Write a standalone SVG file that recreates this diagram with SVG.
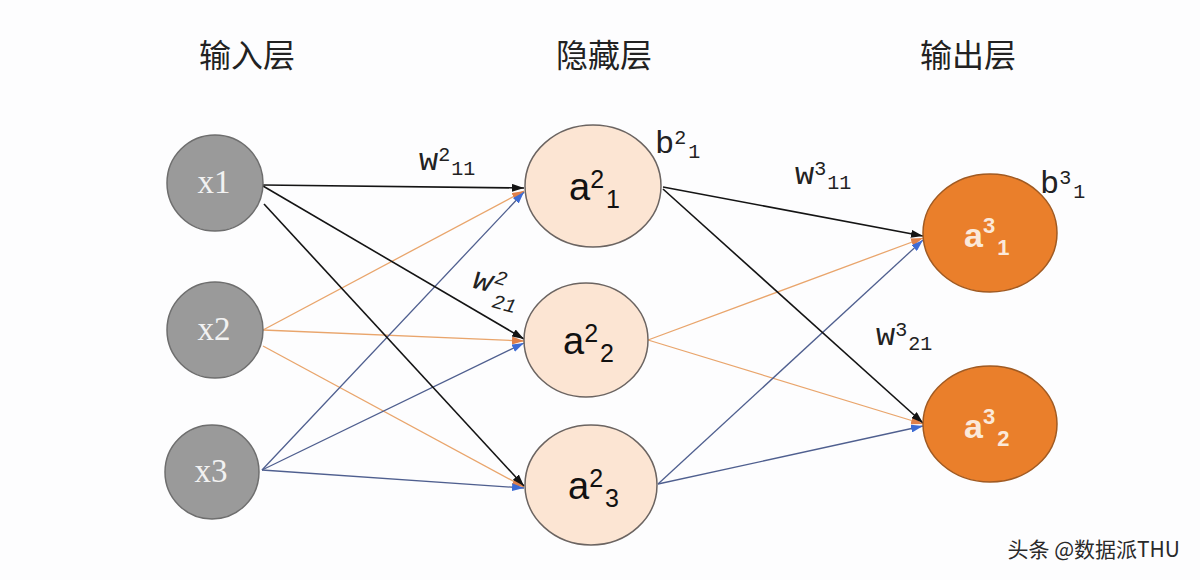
<svg xmlns="http://www.w3.org/2000/svg" width="1200" height="580" viewBox="0 0 1200 580">
<defs>
<style>
.title{font-family:"Noto Sans CJK SC","Noto Sans",sans-serif;font-size:32px;fill:#222;text-anchor:middle}
.mono{font-family:"Liberation Mono","DejaVu Sans Mono",monospace;fill:#222}
.inode{fill:#9a9a9a;stroke:#6e6e6e;stroke-width:1.5}
.hnode{fill:#fce5d3;stroke:#6b6461;stroke-width:1.5}
.onode{fill:#ea7f2b;stroke:#a05a22;stroke-width:1.5}
.itext{font-family:"Liberation Serif","DejaVu Serif",serif;font-size:33px;fill:#f2f2f2;text-anchor:middle}
.htext{font-family:"Liberation Sans",Arial,sans-serif;fill:#111}
.otext{font-family:"Liberation Sans",Arial,sans-serif;fill:#fbe9da;font-weight:bold}
.eb{stroke:#141414;stroke-width:1.6;fill:none;marker-end:url(#ab)}
.eo{stroke:#e9a56c;stroke-width:1.3;fill:none;marker-end:url(#ao)}
.el{stroke:#4f5f8f;stroke-width:1.3;fill:none;marker-end:url(#al)}
.wm{font-family:"Noto Sans CJK SC","Noto Sans",sans-serif;font-size:21px;fill:#2a2a2a;text-anchor:end}
</style>
<marker id="ab" viewBox="0 0 12 8" refX="12" refY="4" markerWidth="12" markerHeight="8" markerUnits="userSpaceOnUse" orient="auto"><path d="M0,0 L12,4 L0,8 Z" fill="#141414"/></marker>
<marker id="ao" viewBox="0 0 12 8" refX="12" refY="4" markerWidth="12" markerHeight="8" markerUnits="userSpaceOnUse" orient="auto"><path d="M0,0 L12,4 L0,8 Z" fill="#e0804a"/></marker>
<marker id="al" viewBox="0 0 12 8" refX="12" refY="4" markerWidth="12" markerHeight="8" markerUnits="userSpaceOnUse" orient="auto"><path d="M0,0 L12,4 L0,8 Z" fill="#3d6bd4"/></marker>
</defs>
<rect width="1200" height="580" fill="#fdfdfe"/>

<g id="titles">
<text class="title" x="247" y="67">输入层</text>
<text class="title" x="604" y="67">隐藏层</text>
<text class="title" x="968" y="67">输出层</text>
</g>

<g id="connectors">
<line class="eo" x1="263" y1="330" x2="524" y2="191"/>
<line class="eo" x1="263" y1="330" x2="524" y2="341"/>
<line class="eo" x1="263" y1="346" x2="524" y2="487"/>
<line class="el" x1="262" y1="470" x2="524" y2="192"/>
<line class="el" x1="262" y1="470" x2="524" y2="343"/>
<line class="el" x1="262" y1="470" x2="524" y2="488"/>
<line class="eb" x1="263" y1="185" x2="524" y2="188"/>
<line class="eb" x1="263" y1="186" x2="524" y2="339"/>
<line class="eb" x1="264" y1="204" x2="524" y2="486"/>
<line class="eo" x1="648" y1="340" x2="923" y2="238"/>
<line class="eo" x1="648" y1="340" x2="923" y2="424"/>
<line class="el" x1="658" y1="484" x2="923" y2="240"/>
<line class="el" x1="658" y1="484" x2="923" y2="426"/>
<line class="eb" x1="663" y1="187" x2="923" y2="236"/>
<line class="eb" x1="663" y1="189" x2="923" y2="423"/>
</g>

<g id="x1"><circle class="inode" cx="215" cy="183" r="48"/><text class="itext" x="214" y="193">x1</text></g>
<g id="x2"><circle class="inode" cx="215" cy="330" r="48"/><text class="itext" x="214" y="340">x2</text></g>
<g id="x3"><circle class="inode" cx="212" cy="472" r="47"/><text class="itext" x="211" y="482">x3</text></g>

<g id="a21"><ellipse class="hnode" cx="593" cy="186" rx="68" ry="61"/>
<text class="htext" x="569" y="200" font-size="38">a<tspan font-size="25" dy="-12">2</tspan><tspan font-size="25" dy="20" dx="2">1</tspan></text></g>
<g id="a22"><ellipse class="hnode" cx="586" cy="340" rx="62" ry="57"/>
<text class="htext" x="563" y="354" font-size="38">a<tspan font-size="25" dy="-12">2</tspan><tspan font-size="25" dy="20" dx="2">2</tspan></text></g>
<g id="a23"><ellipse class="hnode" cx="591" cy="485" rx="66" ry="60"/>
<text class="htext" x="568" y="499" font-size="38">a<tspan font-size="25" dy="-12">2</tspan><tspan font-size="25" dy="20" dx="2">3</tspan></text></g>

<g id="a31"><ellipse class="onode" cx="990" cy="233" rx="67" ry="59"/>
<text class="otext" x="964" y="247" font-size="34">a<tspan font-size="22" dy="-14">3</tspan><tspan font-size="22" dy="22" dx="2">1</tspan></text></g>
<g id="a32"><ellipse class="onode" cx="990" cy="424" rx="67" ry="58"/>
<text class="otext" x="964" y="438" font-size="34">a<tspan font-size="22" dy="-14">3</tspan><tspan font-size="22" dy="22" dx="2">2</tspan></text></g>

<g id="labels">
<text class="mono" x="419" y="170" font-size="32">w<tspan font-size="20" dy="-9">2</tspan><tspan font-size="20" dy="14" dx="1">11</tspan></text>
<text class="mono" x="655" y="153" font-size="32">b<tspan font-size="20" dy="-9">2</tspan><tspan font-size="20" dy="14" dx="2">1</tspan></text>
<text class="mono" transform="translate(470,287) rotate(15) skewX(-10)" x="0" y="0" font-size="32">w<tspan font-size="20" dy="-10">2</tspan><tspan font-size="20" x="27" dy="24">21</tspan></text>
<text class="mono" x="795" y="184" font-size="32">w<tspan font-size="20" dy="-9">3</tspan><tspan font-size="20" dy="14" dx="1">11</tspan></text>
<text class="mono" x="876" y="345" font-size="32">w<tspan font-size="20" dy="-9">3</tspan><tspan font-size="20" dy="14" dx="1">21</tspan></text>
<text class="mono" x="1040" y="193" font-size="32">b<tspan font-size="20" dy="-9">3</tspan><tspan font-size="20" dy="14" dx="2">1</tspan></text>
</g>

<text class="wm" x="1180" y="557">头条 @数据派THU</text>
</svg>
